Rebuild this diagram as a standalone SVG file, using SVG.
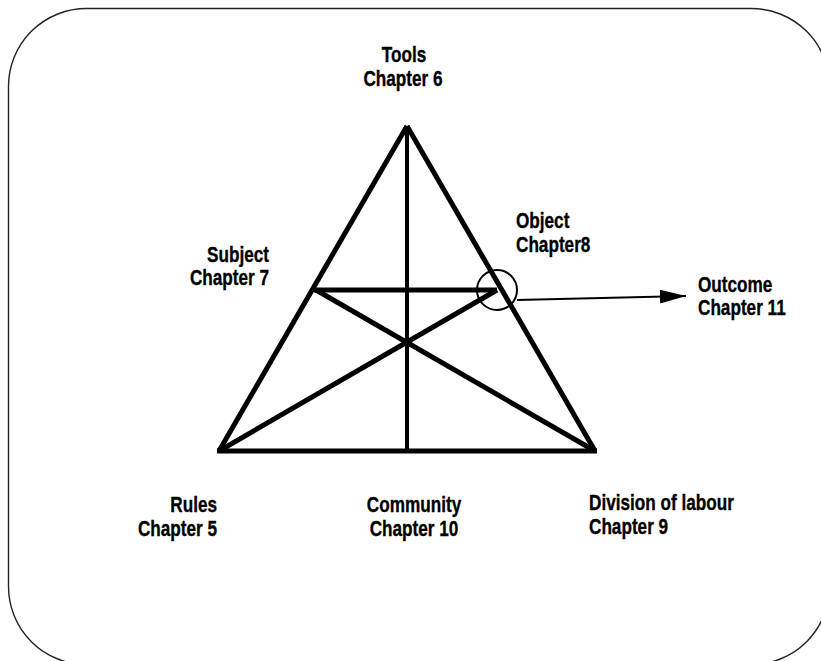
<svg xmlns="http://www.w3.org/2000/svg" width="821" height="661" viewBox="0 0 821 661">
<style>
.lbl{font-family:"Liberation Sans Narrow","Liberation Sans",Arial,sans-serif;font-weight:bold;font-size:22px;fill:#000;stroke:#000;stroke-width:0.35}
.edge{stroke:#000;stroke-width:5;fill:none}
</style>
<defs>
<marker id="ah" viewBox="0 0 26 14" refX="26" refY="7" markerWidth="26" markerHeight="14" markerUnits="userSpaceOnUse" orient="auto">
<path d="M0,0 L26,7 L0,14 Z" fill="#000"/>
</marker>
</defs>
<rect x="8.5" y="8.5" width="821" height="656" rx="78" ry="78" fill="#fff" stroke="#222" stroke-width="1.4"/>
<g id="connectors">
<line class="edge" x1="217" y1="451" x2="597" y2="451"/>
<line class="edge" x1="219" y1="451" x2="407" y2="126"/>
<line class="edge" x1="407" y1="126" x2="595" y2="451"/>
<line class="edge" x1="407" y1="128" x2="407" y2="451" style="stroke-width:4"/>
<line class="edge" x1="314" y1="290" x2="497" y2="290"/>
<line class="edge" x1="219" y1="451" x2="497" y2="290"/>
<line class="edge" x1="595" y1="451" x2="316" y2="290"/>
<circle cx="497" cy="290" r="20" fill="none" stroke="#000" stroke-width="2"/>
<line x1="517" y1="300" x2="686" y2="296" stroke="#000" stroke-width="2" marker-end="url(#ah)"/>
</g>
<g id="tools"><text class="lbl" text-anchor="middle" transform="translate(404,62) scale(0.78,1)">Tools</text><text class="lbl" text-anchor="middle" transform="translate(403,86) scale(0.78,1)">Chapter 6</text></g>
<g id="subject"><text class="lbl" text-anchor="end" transform="translate(269,262) scale(0.78,1)">Subject</text><text class="lbl" text-anchor="end" transform="translate(269,285) scale(0.78,1)">Chapter 7</text></g>
<g id="object"><text class="lbl" transform="translate(516,228) scale(0.78,1)">Object</text><text class="lbl" transform="translate(516,252) scale(0.78,1)">Chapter8</text></g>
<g id="outcome"><text class="lbl" transform="translate(698,292) scale(0.78,1)">Outcome</text><text class="lbl" transform="translate(698,315) scale(0.78,1)">Chapter 11</text></g>
<g id="rules"><text class="lbl" text-anchor="end" transform="translate(217,512) scale(0.78,1)">Rules</text><text class="lbl" text-anchor="end" transform="translate(217,536) scale(0.78,1)">Chapter 5</text></g>
<g id="community"><text class="lbl" text-anchor="middle" transform="translate(414,512) scale(0.78,1)">Community</text><text class="lbl" text-anchor="middle" transform="translate(414,536) scale(0.78,1)">Chapter 10</text></g>
<g id="division"><text class="lbl" transform="translate(589,510) scale(0.78,1)">Division of labour</text><text class="lbl" transform="translate(589,534) scale(0.78,1)">Chapter 9</text></g>
</svg>
